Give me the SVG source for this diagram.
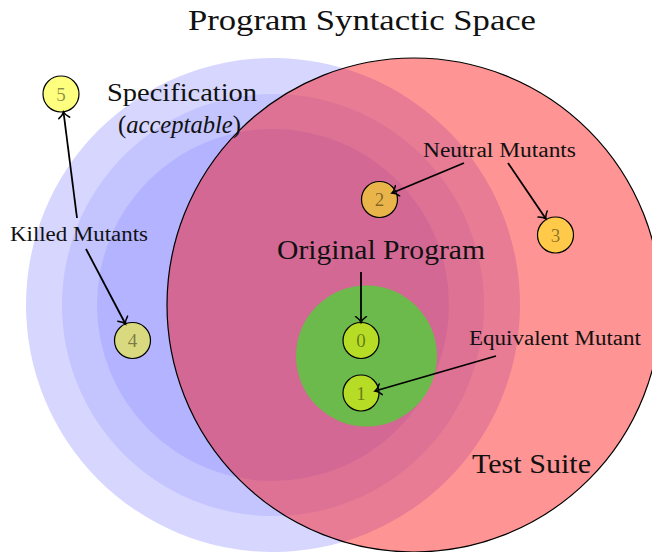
<svg xmlns="http://www.w3.org/2000/svg" width="652" height="552" viewBox="0 0 652 552">
<style>
text{font-family:"Liberation Serif","Times New Roman",serif;fill:#111}
.lbl{font-size:20px}
.big{font-size:27px}
.spec{font-size:26px}
.node circle{fill:#ffff00;fill-opacity:0.5;stroke:#000;stroke-width:1.2}
.node text{font-size:19px;text-anchor:middle;fill:#000;fill-opacity:0.45}
.conn line{stroke:#000;stroke-width:1.8;fill:none;marker-end:url(#arr)}
</style>
<defs>
<marker id="arr" markerUnits="userSpaceOnUse" viewBox="-7 -7 14 14" markerWidth="14" markerHeight="14" refX="0" refY="0" orient="auto">
<path d="M-6,-5.5 C-3.8,-2.2 -1.3,-0.5 0,0 C-1.3,0.5 -3.8,2.2 -6,5.5" fill="none" stroke="#000" stroke-width="1.5" stroke-linecap="round"/>
</marker>
</defs>
<rect width="652" height="552" fill="#fff"/>
<g id="spec">
<circle cx="273" cy="305" r="247" fill="#d6d6ff"/>
<circle cx="273" cy="305" r="211" fill="#c4c4ff"/>
<circle cx="273" cy="305" r="176" fill="#b3b3ff"/>
</g>
<g id="testsuite">
<circle cx="414" cy="305" r="247" fill="#ff0000" fill-opacity="0.42" stroke="#000" stroke-width="1.2"/>
</g>
<g id="original">
<circle cx="366.5" cy="356" r="70.5" fill="#6cb94c"/>
</g>
<g id="labels">
<text x="188" y="30" font-size="30" textLength="348" lengthAdjust="spacingAndGlyphs">Program Syntactic Space</text>
<text x="107" y="101" class="spec" textLength="150" lengthAdjust="spacingAndGlyphs">Specification</text>
<text x="118" y="133" class="spec" textLength="123" lengthAdjust="spacingAndGlyphs">(<tspan font-style="italic">acceptable</tspan>)</text>
<text x="10" y="241" class="lbl" textLength="138" lengthAdjust="spacingAndGlyphs">Killed Mutants</text>
<text x="423" y="157" class="lbl" textLength="153" lengthAdjust="spacingAndGlyphs">Neutral Mutants</text>
<text x="277" y="259" class="big" textLength="208" lengthAdjust="spacingAndGlyphs">Original Program</text>
<text x="469" y="345" class="lbl" textLength="172" lengthAdjust="spacingAndGlyphs">Equivalent Mutant</text>
<text x="472" y="473" class="big" textLength="119" lengthAdjust="spacingAndGlyphs">Test Suite</text>
</g>
<g id="node5" class="node"><circle cx="61" cy="94" r="18"/><text x="61" y="100.5">5</text></g>
<g id="node4" class="node"><circle cx="132.5" cy="340.5" r="18"/><text x="132.5" y="347">4</text></g>
<g id="node2" class="node"><circle cx="379.5" cy="199.5" r="18"/><text x="379.5" y="206">2</text></g>
<g id="node3" class="node"><circle cx="555.5" cy="235" r="18"/><text x="555.5" y="241.5">3</text></g>
<g id="node0" class="node"><circle cx="361" cy="340.5" r="18"/><text x="361" y="347">0</text></g>
<g id="node1" class="node"><circle cx="361" cy="393" r="18"/><text x="361" y="399.5">1</text></g>
<g id="connectors" class="conn">
<line x1="77" y1="218" x2="63.5" y2="112"/>
<line x1="86" y1="249" x2="125.5" y2="324"/>
<line x1="464" y1="163" x2="392" y2="193"/>
<line x1="508" y1="163" x2="546" y2="219"/>
<line x1="361" y1="272" x2="361" y2="322.5"/>
<line x1="496" y1="356" x2="375" y2="391"/>
</g>
</svg>
